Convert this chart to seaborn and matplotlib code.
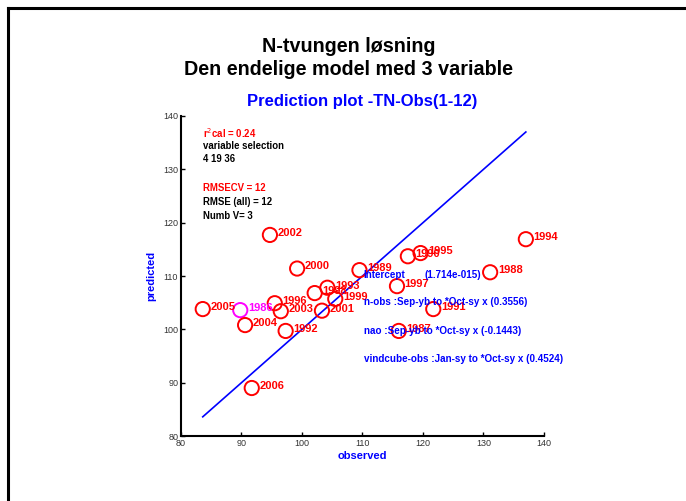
import matplotlib.pyplot as plt
import seaborn as sns
import pandas as pd
from matplotlib.lines import Line2D

# ── Data ─────────────────────────────────────────────────────────────────────
years = [2005, 1986, 2004, 2006, 2002, 1996, 2003, 1992, 2000, 1998, 1993,
         2001, 1999, 1989, 1997, 1987, 1990, 1995, 1991, 1988, 1994]
observed = [83.6, 89.8, 90.6, 91.7, 94.7, 95.5, 96.5, 97.3, 99.2, 102.1, 104.2,
            103.3, 105.5, 109.5, 115.7, 116.0, 117.5, 119.6, 121.7, 131.1, 137.0]
predicted = [103.8, 103.6, 100.8, 89.0, 117.7, 104.9, 103.4, 99.7, 111.4, 106.8, 107.8,
             103.5, 105.7, 111.1, 108.1, 99.7, 113.7, 114.3, 103.8, 110.7, 116.9]
highlight_year = 1986

stats_lines = [("r$^2$cal = 0.24", "red"), ("variable selection", "black"),
               ("4 19 36", "black"), ("RMSECV = 12", "red"),
               ("RMSE (all) = 12", "black"), ("Numb V= 3", "black")]
stats_y = [136.8, 134.4, 131.9, 126.5, 123.9, 121.3]

coef_names = ["n-obs :Sep-yb to *Oct-sy x", "nao :Sep-yb to *Oct-sy x",
              "vindcube-obs :Jan-sy to *Oct-sy x"]
coef_values = [0.3556, -0.1443, 0.4524]
coef_y = [105.1, 99.7, 94.4]
intercept = "1.714e-015"

df = pd.DataFrame({"year": years, "observed": observed, "predicted": predicted})
df["group"] = ["hl" if y == highlight_year else "normal" for y in years]
colors = {"normal": "red", "hl": "magenta"}

# ── Figure ───────────────────────────────────────────────────────────────────
plt.rcParams["font.family"] = ["Liberation Sans", "DejaVu Sans"]
fig = plt.figure(figsize=(6.86, 5.01), dpi=100)
ax = fig.add_axes([0.2638, 0.1297, 0.5292, 0.6388])

# figure frame (top + left only, as in reference)
fig.add_artist(Line2D([0.011, 1.0], [0.985, 0.985], color="black", lw=2.2,
                      transform=fig.transFigure))
fig.add_artist(Line2D([0.011, 0.011], [0.0, 0.985], color="black", lw=2.2,
                      transform=fig.transFigure))

# y = x reference line spanning observed range
lo, hi = min(observed), max(observed)
ax.plot([lo, hi], [lo, hi], color="blue", lw=1.2, zorder=1)

sns.scatterplot(data=df, x="observed", y="predicted", hue="group",
                palette=colors, legend=False, marker="o", s=105,
                linewidth=1.4, ax=ax, zorder=3)
for coll in ax.collections:
    coll.set_facecolor("none")
    coll.set_edgecolor([colors[g] for g in df["group"]])

for _, r in df.iterrows():
    ax.annotate(str(r["year"]), (r["observed"], r["predicted"]),
                xytext=(5.5, 1.5), textcoords="offset points",
                color=colors[r["group"]], fontsize=8, fontweight="bold",
                va="center", ha="left")

for (txt, col), y in zip(stats_lines, stats_y):
    ax.text(83.6, y, txt, color=col, fontsize=6.9, fontweight="bold",
            va="center", ha="left")

ax.text(110.2, 110.2, "Intercept", color="blue", fontsize=7.1,
        fontweight="bold", va="center")
ax.text(120.3, 110.2, f"({intercept})", color="blue", fontsize=7.1,
        fontweight="bold", va="center")
for name, val, y in zip(coef_names, coef_values, coef_y):
    ax.text(110.2, y, f"{name} ({val:.4f})", color="blue", fontsize=7.1,
            fontweight="bold", va="center")

ax.set_xlim(80, 140)
ax.set_ylim(80, 140)
ax.set_xticks(range(80, 141, 10))
ax.set_yticks(range(80, 141, 10))
for s in ["top", "right"]:
    ax.spines[s].set_visible(False)
for s in ["left", "bottom"]:
    ax.spines[s].set_linewidth(1.5)
ax.tick_params(direction="in", length=3, width=1, labelsize=6.5,
               labelcolor="#333333", pad=2)

ax.set_xlabel("observed", color="blue", fontsize=8, fontweight="bold",
              labelpad=2)
ax.set_ylabel("predicted", color="blue", fontsize=8, fontweight="bold",
              labelpad=5)
ax.set_title("Prediction plot -TN-Obs(1-12)", color="blue", fontsize=12,
             fontweight="bold", pad=7)

fig.text(0.508, 0.907, "N-tvungen løsning", ha="center", va="center",
         fontsize=14.2, fontweight="bold")
fig.text(0.508, 0.862, "Den endelige model med 3 variable", ha="center",
         va="center", fontsize=14.2, fontweight="bold")

fig.savefig("out.png", dpi=100)
